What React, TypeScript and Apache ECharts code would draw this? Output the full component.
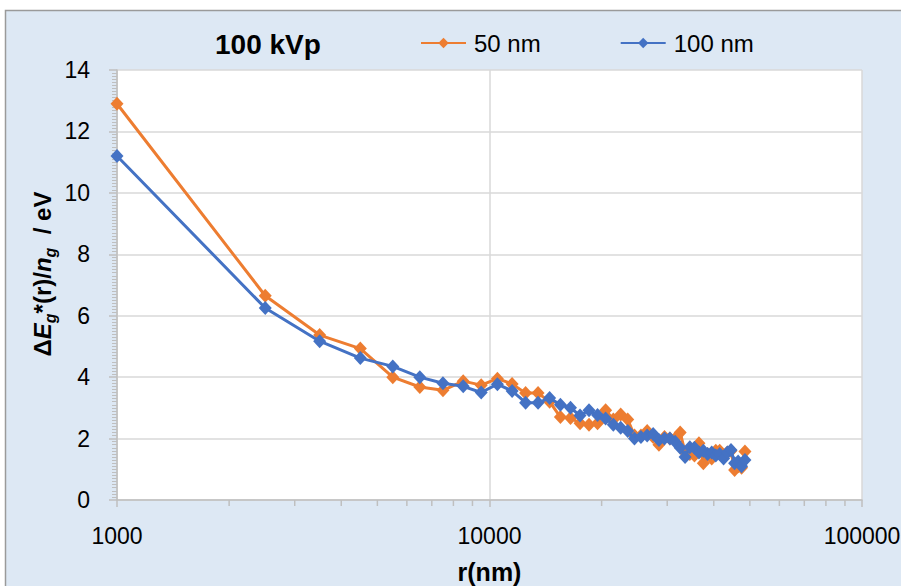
import React, { useEffect, useRef } from "react";
import * as echarts from "echarts";

const rValues = [
  1000, 2500, 3500, 4500, 5500, 6500, 7500, 8500, 9500,
  10500, 11500, 12500, 13500, 14500, 15500, 16500, 17500, 18500, 19500,
  20500, 21500, 22500, 23500, 24500, 25500, 26500, 27500, 28500, 29500,
  30500, 31500, 32500, 33500, 34500, 35500, 36500, 37500, 38500, 39500,
  40500, 41500, 42500, 43500, 44500, 45500, 46500, 47500, 48500,
];

const series50nm = [
  12.9, 6.65, 5.37, 4.93, 4.0, 3.68, 3.57, 3.87, 3.74,
  3.95, 3.78, 3.48, 3.48, 3.2, 2.7, 2.67, 2.5, 2.45, 2.5,
  2.92, 2.62, 2.78, 2.62, 2.1, 2.1, 2.25, 2.05, 1.8, 2.05,
  2.0, 2.0, 2.2, 1.55, 1.5, 1.45, 1.85, 1.2, 1.5, 1.35,
  1.6, 1.6, 1.45, 1.55, 1.6, 0.98, 1.1, 1.05, 1.58,
];

const series100nm = [
  11.2, 6.25, 5.17, 4.62, 4.35, 4.0, 3.8, 3.7, 3.5,
  3.77, 3.55, 3.17, 3.17, 3.32, 3.1, 3.0, 2.75, 2.92, 2.77,
  2.65, 2.45, 2.35, 2.25, 2.0, 2.05, 2.1, 2.15, 1.95, 2.0,
  2.0, 1.9, 1.7, 1.4, 1.72, 1.7, 1.55, 1.6, 1.5, 1.55,
  1.45, 1.5, 1.35, 1.55, 1.63, 1.2, 1.25, 1.1, 1.3,
];

const xMinorTicks = [
  2000, 3000, 4000, 5000, 6000, 7000, 8000, 9000,
  20000, 30000, 40000, 50000, 60000, 70000, 80000, 90000,
];

const FONT = "'Liberation Sans', Arial, sans-serif";
const ORANGE = "#ed7d31";
const BLUE = "#4472c4";
const TICK = "#bfbfbf";

export default function App() {
  const ref = useRef<HTMLDivElement>(null);

  useEffect(() => {
    if (!ref.current) return;
    const chart = echarts.init(ref.current, null, { renderer: "svg" });

    const toPairs = (ys: number[]) => rValues.map((x, i) => [x, ys[i]]);

    chart.setOption({
      animation: false,
      backgroundColor: "#ffffff",
      textStyle: { fontFamily: FONT },
      graphic: [
        {
          type: "rect",
          z: -10,
          silent: true,
          shape: { x: 5.5, y: 10.5, width: 900, height: 580 },
          style: { fill: "#dde8f4", stroke: "#9a9a9a", lineWidth: 1.5 },
        },
        {
          type: "text",
          left: 215,
          top: 30,
          style: {
            text: "100 kVp",
            fontFamily: FONT,
            fontWeight: "bold",
            fontSize: 28,
            fill: "#000000",
          },
        },
        {
          type: "text",
          x: 42,
          y: 274,
          rotation: Math.PI / 2,
          style: {
            text: "{b|Δ}{i|E}{s|g}{b|*(r)/}{i|n}{s|g}{b|  / eV}",
            align: "center",
            verticalAlign: "middle",
            fill: "#000000",
            rich: {
              b: { fontFamily: FONT, fontWeight: "bold", fontSize: 24, lineHeight: 32, verticalAlign: "middle" },
              i: { fontFamily: FONT, fontWeight: "bold", fontStyle: "italic", fontSize: 24, lineHeight: 32, verticalAlign: "middle" },
              s: { fontFamily: FONT, fontWeight: "bold", fontStyle: "italic", fontSize: 16, lineHeight: 32, verticalAlign: "bottom" },
            },
          },
        },
      ],
      legend: {
        top: 26,
        left: 415,
        itemGap: 79,
        itemWidth: 45,
        itemHeight: 13,
        textStyle: { fontFamily: FONT, fontSize: 24, color: "#000000", padding: [0, 0, 0, 3] },
        data: ["50 nm", "100 nm"],
      },
      grid: {
        left: 117,
        right: 39,
        top: 70,
        bottom: 86,
        show: true,
        backgroundColor: "#ffffff",
        borderWidth: 0,
        outerBoundsMode: "none",
        containLabel: false,
      },
      xAxis: {
        type: "log",
        min: 1000,
        max: 100000,
        logBase: 10,
        name: "r(nm)",
        nameLocation: "middle",
        nameGap: 59,
        nameTextStyle: { fontFamily: FONT, fontWeight: "bold", fontSize: 25, color: "#000000" },
        axisLine: { show: true, lineStyle: { color: TICK, width: 1.5 } },
        axisTick: { show: true, length: 7, lineStyle: { color: TICK, width: 1.5 } },
        axisLabel: {
          fontFamily: FONT,
          fontSize: 23,
          color: "#000000",
          margin: 24,
          formatter: (v: number) => String(Math.round(v)),
        },
        splitLine: { show: true, lineStyle: { color: "#d9d9d9", width: 1.5 } },
        minorTick: { show: false },
      },
      yAxis: {
        type: "value",
        min: 0,
        max: 14,
        interval: 2,
        axisLine: { show: true, lineStyle: { color: TICK, width: 1.5 } },
        axisTick: { show: true, length: 8, lineStyle: { color: TICK, width: 1.5 } },
        minorTick: { show: true, splitNumber: 20, length: 5, lineStyle: { color: TICK, width: 1 } },
        axisLabel: { fontFamily: FONT, fontSize: 23, color: "#000000", margin: 27 },
        splitLine: { show: true, lineStyle: { color: "#d9d9d9", width: 1.5 } },
      },
      series: [
        {
          name: "50 nm",
          type: "line",
          data: toPairs(series50nm),
          symbol: "diamond",
          symbolSize: [13, 14],
          itemStyle: { color: ORANGE },
          lineStyle: { color: ORANGE, width: 3 },
          z: 2,
        },
        {
          name: "100 nm",
          type: "line",
          data: toPairs(series100nm),
          symbol: "diamond",
          symbolSize: [13, 14],
          itemStyle: { color: BLUE },
          lineStyle: { color: BLUE, width: 3 },
          z: 3,
        },
        {
          name: "minorTicks",
          type: "custom",
          silent: true,
          z: 1,
          data: xMinorTicks.map((v) => [v, 0]),
          renderItem: (params: any, api: any) => {
            const p = api.coord([api.value(0), api.value(1)]);
            return {
              type: "line",
              shape: { x1: p[0], y1: p[1], x2: p[0], y2: p[1] + 6 },
              style: { stroke: TICK, lineWidth: 1.5 },
            };
          },
        },
      ],
    });

    return () => chart.dispose();
  }, []);

  return (
    <div
      ref={ref}
      style={{ position: "absolute", left: 0, top: 0, width: 901, height: 586 }}
    />
  );
}
